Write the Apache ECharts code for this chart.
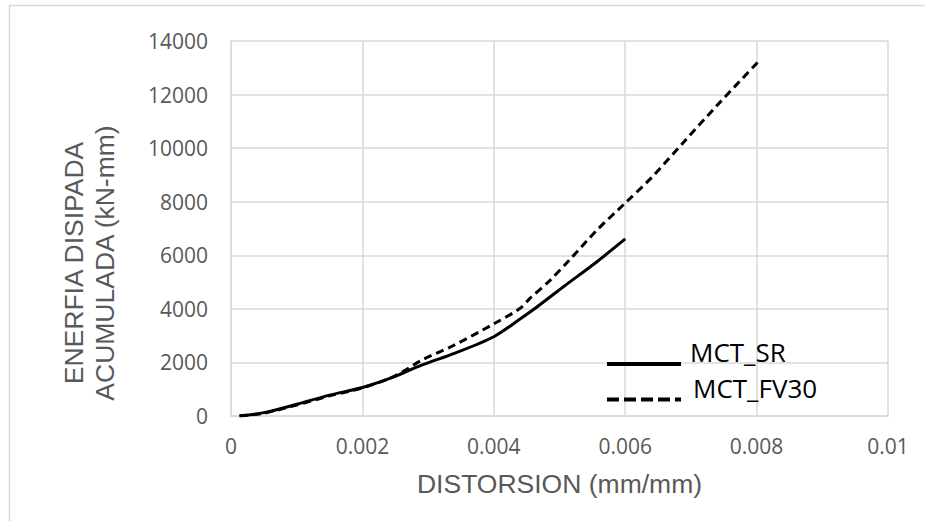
<!DOCTYPE html>
<html>
<head>
<meta charset="utf-8">
<script src="https://cdn.jsdelivr.net/npm/echarts@6/dist/echarts.min.js"></script>
<style>
html,body{margin:0;padding:0;background:#fff;}
#chart{width:925px;height:521px;}
</style>
</head>
<body>
<div id="chart"></div>
<script>
// ---- data ----
const seriesNames = ['MCT_SR', 'MCT_FV30'];
const srX = [0.00013, 0.0005, 0.001, 0.0015, 0.002, 0.0025, 0.0029, 0.0034, 0.004, 0.0044, 0.00463, 0.00506, 0.00557, 0.0060];
const srY = [10, 125, 436, 780, 1065, 1480, 1900, 2340, 2960, 3620, 4020, 4825, 5760, 6610];
const fvX = [0.00013, 0.0005, 0.001, 0.0015, 0.002, 0.0025, 0.0029, 0.0034, 0.004, 0.0044, 0.00455, 0.00486, 0.00516, 0.00557, 0.0060, 0.0064, 0.0069, 0.0074, 0.00805];
const fvY = [0, 105, 410, 750, 1050, 1500, 2080, 2650, 3440, 4020, 4390, 5075, 5846, 6940, 7950, 8900, 10250, 11600, 13290];
const xTitle = 'DISTORSION (mm/mm)';
const yTitleLines = ['ENERFIA DISIPADA', 'ACUMULADA (kN-mm)'];

const pairs = (xs, ys) => xs.map((x, i) => [x, ys[i]]);

const chart = echarts.init(document.getElementById('chart'), null, {renderer: 'svg'});
const gridColor = '#d9d9d9';
const labelColor = '#595959';
const titleFont = '26.5px "Liberation Sans", Arial, sans-serif';

chart.setOption({
  animation: false,
  backgroundColor: '#fff',
  grid: {left: 231, right: 37, top: 41, bottom: 105, containLabel: false},
  xAxis: {
    type: 'value', min: 0, max: 0.01, interval: 0.002,
    axisLine: {show: true, lineStyle: {color: gridColor, width: 1.5}},
    axisTick: {show: false},
    splitLine: {show: true, lineStyle: {color: gridColor, width: 1.5}},
    axisLabel: {
      color: labelColor, fontFamily: 'Open Sans', fontSize: 21, margin: 19,
      formatter: v => String(+v.toFixed(4))
    }
  },
  yAxis: {
    type: 'value', min: 0, max: 14000, interval: 2000,
    axisLine: {show: true, lineStyle: {color: gridColor, width: 1.5}},
    axisTick: {show: false},
    splitLine: {show: true, lineStyle: {color: gridColor, width: 1.5}},
    axisLabel: {color: labelColor, fontFamily: 'Open Sans', fontSize: 21, margin: 23, formatter: v => String(v)}
  },
  legend: {
    orient: 'vertical', left: 605, top: 339, padding: 0, itemGap: -14.5,
    itemWidth: 74, itemHeight: 14,
    itemStyle: {opacity: 0},
    lineStyle: {width: 4},
    formatter: name => name + '\n ',
    data: [
      {name: seriesNames[0], lineStyle: {width: 4, type: 'solid'}},
      {name: seriesNames[1], lineStyle: {width: 4, type: [12, 5], cap: 'butt'},
       textStyle: {padding: [0, 0, 0, 7]}}
    ],
    textStyle: {color: '#000', fontFamily: 'Open Sans', fontSize: 26, lineHeight: 24, padding: [0, 0, 0, 4]}
  },
  graphic: [
    {type: 'rect', silent: true, shape: {x: 9.5, y: 5.5, width: 1000, height: 1000},
     style: {fill: 'none', stroke: gridColor, lineWidth: 1.5}, z: -10},
    {type: 'text', x: 559.5, y: 484, silent: true,
     style: {text: xTitle, fill: labelColor, font: titleFont, align: 'center', verticalAlign: 'middle'}},
    {type: 'text', x: 89, y: 263, rotation: Math.PI / 2, silent: true,
     style: {text: yTitleLines.join('\n'), fill: labelColor, font: titleFont, lineHeight: 31, align: 'center', verticalAlign: 'middle'}}
  ],
  series: [
    {name: seriesNames[0], type: 'line', data: pairs(srX, srY), symbol: 'none', smooth: 0.3,
     lineStyle: {color: '#000', width: 3}, itemStyle: {color: '#000'}},
    {name: seriesNames[1], type: 'line', data: pairs(fvX, fvY), symbol: 'none', smooth: 0.3,
     lineStyle: {color: '#000', width: 3, type: [8, 5], cap: 'butt'}, itemStyle: {color: '#000'}}
  ]
});
</script>
</body>
</html>
